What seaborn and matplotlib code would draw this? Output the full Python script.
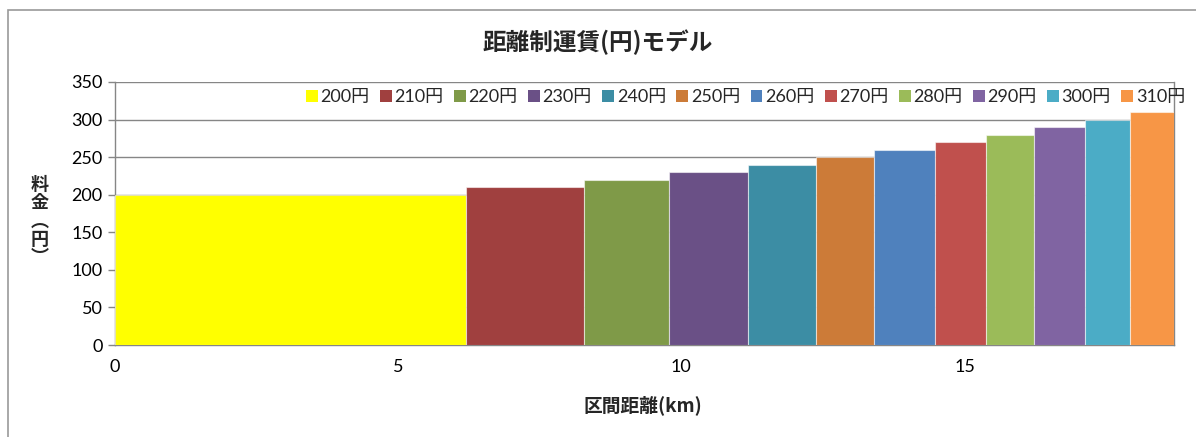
import numpy as np
import matplotlib
matplotlib.use("Agg")
import matplotlib.pyplot as plt
from matplotlib.patches import Patch, Rectangle
from matplotlib.ticker import MultipleLocator
import seaborn as sns

# fare steps (yen) and the distance (km) where each step ends
fares = [200, 210, 220, 230, 240, 250, 260, 270, 280, 290, 300, 310]
edges = [0, 6.2, 8.28, 9.78, 11.18, 12.38, 13.4, 14.48, 15.38, 16.22, 17.12, 17.93, 18.7]
labels = [f"{f}円" for f in fares]
colors = ["#FFFF00", "#A0403F", "#7F9A48", "#6A5086", "#3C8DA4", "#CC7B38",
          "#4F81BD", "#C0504D", "#9BBB59", "#8064A2", "#4BACC6", "#F79646"]

sns.set_theme(style="white")
plt.rcParams['font.family'] = ['Lato', 'Noto Sans CJK JP', 'DejaVu Sans']
cjk = ['Noto Sans CJK JP', 'DejaVu Sans']
grey = "#868686"

fig = plt.figure(figsize=(11.96, 4.37), dpi=100)
ax = fig.add_axes([115 / 1196, 1 - 345 / 437, (1174 - 115) / 1196, (345 - 82) / 437])

left = np.array(edges[:-1])
width = np.diff(edges)
ax.bar(left, fares, width=width, align='edge', color=colors,
       edgecolor=(1, 1, 1, 0.55), linewidth=0.8, zorder=3)

ax.set_xlim(0, edges[-1])
ax.set_ylim(0, 350)
ax.set_yticks(range(0, 351, 50))
ax.xaxis.set_major_locator(MultipleLocator(5))
ax.xaxis.set_minor_locator(MultipleLocator(0.1))
ax.grid(axis='y', color=grey, linewidth=1, zorder=0)
ax.grid(axis='x', visible=False)

for s in ['top']:
    ax.spines[s].set_visible(False)
for s in ['left', 'bottom', 'right']:
    ax.spines[s].set_color(grey)
    ax.spines[s].set_linewidth(1)
ax.tick_params(axis='both', which='both', direction='out', color=grey,
               labelsize=13, labelcolor='black')
ax.tick_params(axis='x', which='major', length=5, width=1, pad=5)
ax.tick_params(axis='x', which='minor', length=4, width=0.8)
ax.tick_params(axis='y', which='major', length=5, width=1, pad=4, left=True)

fig.text(0.5, 1 - 42 / 437, "距離制運賃(円)モデル", ha='center', va='center',
         fontsize=17, fontweight='bold', family=cjk)
fig.text(643 / 1196, 1 - 405 / 437, "区間距離(km)", ha='center', va='center',
         fontsize=13.5, fontweight='bold', family=cjk)
fig.text(40 / 1196, 1 - 221 / 437, "料\n金\n︵\n円\n︶", ha='center', va='center',
         fontsize=13, fontweight='bold', family=cjk, linespacing=0.95)

handles = [Patch(facecolor=c, edgecolor='none') for c in colors]
fig.legend(handles, labels, loc='center right', ncol=12,
           bbox_to_anchor=(1185 / 1196, 1 - 97 / 437), frameon=False,
           fontsize=13, handlelength=0.65, handleheight=0.65,
           handletextpad=0.15, columnspacing=0.58, borderaxespad=0, borderpad=0)

# chart area frame
fig.patches.append(Rectangle((8 / 1196, -0.1), 1.2, 1 - 10 / 437 + 0.1,
                             transform=fig.transFigure, fill=False,
                             edgecolor="#9A9A9A", linewidth=1.2))

fig.savefig("out.png", dpi=100)
